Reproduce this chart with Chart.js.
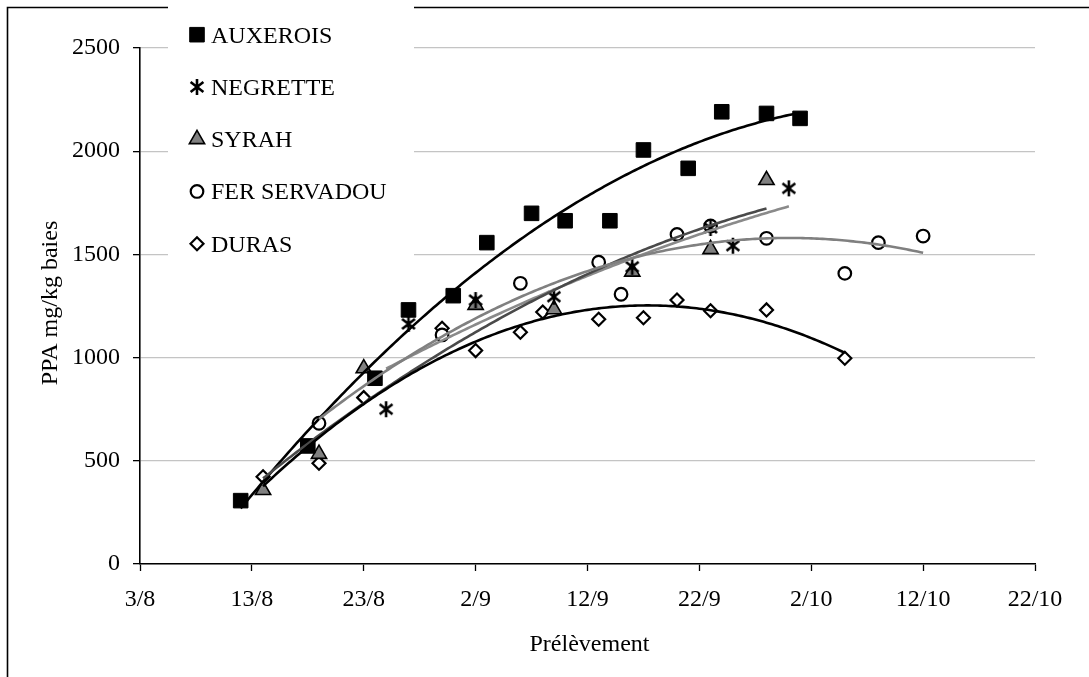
<!DOCTYPE html>
<html>
<head>
<meta charset="utf-8">
<title>PPA mg/kg baies</title>
<script src="https://cdn.jsdelivr.net/npm/chart.js@4/dist/chart.umd.min.js"></script>
<style>
  html, body { margin: 0; padding: 0; background: #fff; }
  canvas { display: block; }
</style>
</head>
<body>
<canvas id="chart" width="1089" height="677"></canvas>
<script>
// Sampling dates (day/month) and PPA values (mg/kg berries) per grape variety
const SERIES_NAMES = ['AUXEROIS', 'NEGRETTE', 'SYRAH', 'FER SERVADOU', 'DURAS'];

const AUXEROIS_DATES = ['12/8', '18/8', '24/8', '27/8', '31/8', '3/9', '7/9', '10/9', '14/9', '17/9', '21/9', '24/9', '28/9', '1/10'];
const AUXEROIS_PPA   = [307, 572, 900, 1231, 1300, 1557, 1699, 1663, 1663, 2006, 1917, 2191, 2183, 2159];

const NEGRETTE_DATES = ['25/8', '27/8', '2/9', '9/9', '16/9', '23/9', '25/9', '30/9'];
const NEGRETTE_PPA   = [750, 1163, 1279, 1295, 1440, 1628, 1542, 1820];

const SYRAH_DATES = ['14/8', '19/8', '23/8', '2/9', '9/9', '16/9', '23/9', '28/9'];
const SYRAH_PPA   = [358, 533, 948, 1255, 1234, 1416, 1525, 1860];

const FER_SERVADOU_DATES = ['19/8', '30/8', '6/9', '13/9', '15/9', '20/9', '23/9', '28/9', '5/10', '8/10', '12/10'];
const FER_SERVADOU_PPA   = [682, 1110, 1360, 1462, 1307, 1597, 1638, 1578, 1408, 1557, 1589];

const DURAS_DATES = ['14/8', '19/8', '23/8', '30/8', '2/9', '6/9', '8/9', '13/9', '17/9', '20/9', '23/9', '28/9', '5/10'];
const DURAS_PPA   = [423, 488, 806, 1142, 1034, 1123, 1221, 1186, 1193, 1279, 1227, 1231, 997];

// Axis tick labels: x every 10 days from 3/8, y every 500
const X_TICK_LABELS = ['3/8', '13/8', '23/8', '2/9', '12/9', '22/9', '2/10', '12/10', '22/10'];
const Y_TICKS = [0, 500, 1000, 1500, 2000, 2500];

const X_TITLE = 'Prélèvement';
const Y_TITLE = 'PPA mg/kg baies';

const FONT = '"Liberation Serif", "Times New Roman", serif';
const FONT_SIZE = 24;

// Days elapsed since the first axis date (3/8)
function dayIndex(label) {
  const [d, m] = label.split('/').map(Number);
  const [d0, m0] = X_TICK_LABELS[0].split('/').map(Number);
  return Math.round((Date.UTC(2000, m - 1, d) - Date.UTC(2000, m0 - 1, d0)) / 86400000);
}

function toPoints(dates, values) {
  return dates.map((s, i) => ({ x: dayIndex(s), y: values[i] }));
}

// Asterisk marker (X plus vertical bar)
function asteriskMarker(size, lw) {
  const c = document.createElement('canvas');
  c.width = c.height = size;
  const g = c.getContext('2d');
  const h = size / 2, r = h - 1;
  g.strokeStyle = '#000';
  g.lineWidth = lw;
  g.lineCap = 'butt';
  g.beginPath();
  g.moveTo(h, h - r); g.lineTo(h, h + r);
  const dx = r * 0.8, dy = r * 0.62;
  g.moveTo(h - dx, h - dy); g.lineTo(h + dx, h + dy);
  g.moveTo(h + dx, h - dy); g.lineTo(h - dx, h + dy);
  g.stroke();
  return c;
}

const starImg = asteriskMarker(18, 2.6);

const datasets = [
  { label: SERIES_NAMES[0], data: toPoints(AUXEROIS_DATES, AUXEROIS_PPA),
    pointStyle: 'rect', pointRadius: 10.3, backgroundColor: '#000', borderColor: '#000', borderWidth: 1,
    trendColor: '#000' },
  { label: SERIES_NAMES[1], data: toPoints(NEGRETTE_DATES, NEGRETTE_PPA),
    pointStyle: starImg, pointRadius: 9, backgroundColor: '#000', borderColor: '#000', borderWidth: 2,
    trendColor: '#8a8a8a' },
  { label: SERIES_NAMES[2], data: toPoints(SYRAH_DATES, SYRAH_PPA),
    pointStyle: 'triangle', pointRadius: 8.8, backgroundColor: '#808080', borderColor: '#000', borderWidth: 1.6,
    trendColor: '#4a4a4a' },
  { label: SERIES_NAMES[3], data: toPoints(FER_SERVADOU_DATES, FER_SERVADOU_PPA),
    pointStyle: 'circle', pointRadius: 6.3, backgroundColor: '#fff', borderColor: '#000', borderWidth: 2.2,
    trendColor: '#808080' },
  { label: SERIES_NAMES[4], data: toPoints(DURAS_DATES, DURAS_PPA),
    pointStyle: 'rectRot', pointRadius: 6.5, backgroundColor: '#fff', borderColor: '#000', borderWidth: 2.2,
    trendColor: '#000' }
].map(ds => Object.assign(ds, { showLine: false, pointHoverRadius: ds.pointRadius }));

// Least-squares second-order polynomial fit
function quadFit(pts) {
  let n = pts.length, sx = 0, sx2 = 0, sx3 = 0, sx4 = 0, sy = 0, sxy = 0, sx2y = 0;
  pts.forEach(p => {
    const x = p.x, y = p.y, x2 = x * x;
    sx += x; sx2 += x2; sx3 += x2 * x; sx4 += x2 * x2;
    sy += y; sxy += x * y; sx2y += x2 * y;
  });
  const A = [[n, sx, sx2, sy], [sx, sx2, sx3, sxy], [sx2, sx3, sx4, sx2y]];
  for (let i = 0; i < 3; i++) {
    for (let k = i + 1; k < 3; k++) {
      const f = A[k][i] / A[i][i];
      for (let j = i; j < 4; j++) A[k][j] -= f * A[i][j];
    }
  }
  const c = [0, 0, 0];
  for (let i = 2; i >= 0; i--) {
    let s = A[i][3];
    for (let j = i + 1; j < 3; j++) s -= A[i][j] * c[j];
    c[i] = s / A[i][i];
  }
  return c;
}

// Outer frame and axis titles
const framePlugin = {
  id: 'frame',
  beforeDraw(chart) {
    const ctx = chart.ctx;
    ctx.save();
    ctx.fillStyle = '#fff';
    ctx.fillRect(0, 0, chart.width, chart.height);
    ctx.strokeStyle = '#000';
    ctx.lineWidth = 1.6;
    ctx.beginPath();
    ctx.moveTo(7.5, chart.height);
    ctx.lineTo(7.5, 7.5);
    ctx.lineTo(chart.width, 7.5);
    ctx.stroke();
    ctx.restore();
  },
  afterDraw(chart) {
    const ctx = chart.ctx;
    ctx.save();
    ctx.fillStyle = '#000';
    ctx.font = FONT_SIZE + 'px ' + FONT;
    ctx.textAlign = 'center';
    ctx.textBaseline = 'alphabetic';
    const a = chart.chartArea;
    ctx.fillText(X_TITLE, (a.left + a.right) / 2 + 2, 651);
    ctx.translate(57, (a.top + a.bottom) / 2 - 3);
    ctx.rotate(-Math.PI / 2);
    ctx.fillText(Y_TITLE, 0, 0);
    ctx.restore();
  }
};

// Polynomial trend curves over each series' sampling range
const trendPlugin = {
  id: 'trend',
  afterDatasetsDraw(chart) {
    const ctx = chart.ctx, xs = chart.scales.x, ys = chart.scales.y;
    ctx.save();
    ctx.lineWidth = 2.6;
    ctx.lineJoin = 'round';
    ctx.lineCap = 'butt';
    chart.data.datasets.forEach(ds => {
      const c = quadFit(ds.data);
      const xmin = Math.min(...ds.data.map(p => p.x));
      const xmax = Math.max(...ds.data.map(p => p.x));
      ctx.strokeStyle = ds.trendColor;
      ctx.beginPath();
      for (let x = xmin, first = true; x <= xmax + 1e-9; x += 0.25) {
        const y = c[0] + c[1] * x + c[2] * x * x;
        const px = xs.getPixelForValue(x), py = ys.getPixelForValue(y);
        if (first) { ctx.moveTo(px, py); first = false; } else ctx.lineTo(px, py);
      }
      ctx.stroke();
    });
    ctx.restore();
  }
};

// Legend box laid over the top-left of the plot
const legendPlugin = {
  id: 'boxLegend',
  afterDraw(chart) {
    const ctx = chart.ctx;
    ctx.save();
    ctx.fillStyle = '#fff';
    ctx.fillRect(168, 0, 246, 268);
    ctx.font = FONT_SIZE + 'px ' + FONT;
    ctx.textAlign = 'left';
    ctx.textBaseline = 'alphabetic';
    chart.data.datasets.forEach((ds, i) => {
      const base = 42.7 + i * 52.25;
      const cy = base - 8;
      ctx.fillStyle = ds.backgroundColor;
      ctx.strokeStyle = ds.borderColor;
      ctx.lineWidth = ds.borderWidth;
      Chart.helpers.drawPoint(ctx, {
        pointStyle: ds.pointStyle, radius: ds.pointRadius, rotation: 0, borderWidth: ds.borderWidth
      }, 197, cy);
      ctx.fillStyle = '#000';
      ctx.fillText(ds.label, 211, base);
    });
    ctx.restore();
  }
};

new Chart(document.getElementById('chart'), {
  type: 'scatter',
  data: { datasets },
  options: {
    responsive: false,
    animation: false,
    devicePixelRatio: 1,
    layout: { padding: { left: 0, right: 54, top: 48, bottom: 0 } },
    plugins: { legend: { display: false }, tooltip: { enabled: false } },
    scales: {
      x: {
        type: 'linear',
        min: 0,
        max: 80,
        afterFit(scale) { scale.height = 113; },
        afterBuildTicks(scale) {
          scale.ticks = X_TICK_LABELS.map((_, i) => ({ value: i * 10 }));
        },
        ticks: {
          autoSkip: false,
          maxRotation: 0,
          padding: 14,
          color: '#000',
          font: { family: FONT, size: FONT_SIZE },
          callback: (v, i) => X_TICK_LABELS[i]
        },
        grid: { drawOnChartArea: false, drawTicks: true, tickLength: 7, tickColor: '#000', tickWidth: 1.3 },
        border: { color: '#000', width: 1.6 }
      },
      y: {
        type: 'linear',
        min: Y_TICKS[0],
        max: Y_TICKS[Y_TICKS.length - 1],
        afterFit(scale) { scale.width = 140; },
        afterBuildTicks(scale) {
          scale.ticks = Y_TICKS.map(v => ({ value: v }));
        },
        ticks: {
          padding: 13,
          color: '#000',
          font: { family: FONT, size: FONT_SIZE },
          callback: v => String(v)
        },
        grid: { color: '#c4c4c4', lineWidth: 1.3, drawTicks: true, tickLength: 7, tickColor: '#000', tickWidth: 1.3 },
        border: { color: '#000', width: 1.6 }
      }
    }
  },
  plugins: [framePlugin, trendPlugin, legendPlugin]
});
</script>
</body>
</html>
